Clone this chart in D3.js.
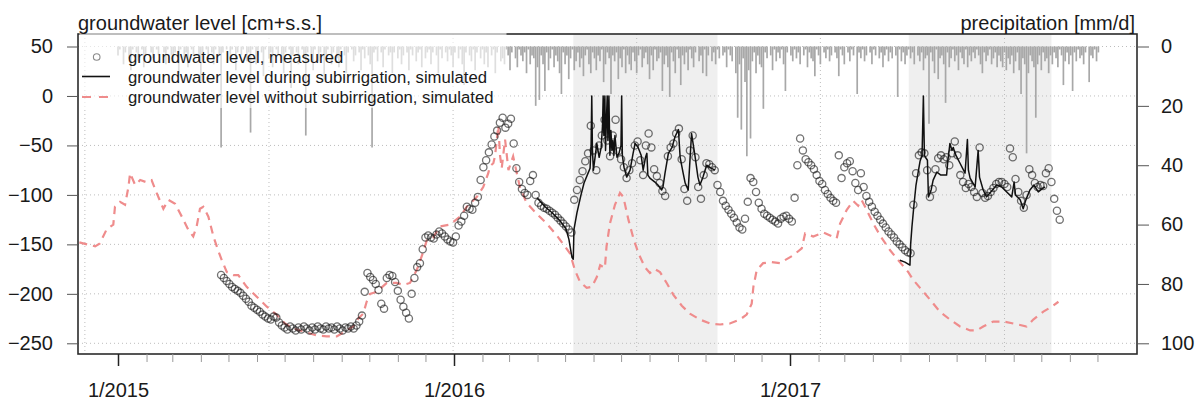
<!DOCTYPE html>
<html>
<head>
<meta charset="utf-8">
<style>
  body { margin: 0; background: #fff; }
  text { font-family: "Liberation Sans", Arial, sans-serif; fill: #1a1a1a; }
</style>
</head>
<body>
<script src="https://cdn.jsdelivr.net/npm/d3@7/dist/d3.min.js"></script>
<script>
// ---- data ----
// subirrigation periods (grey shading)
var subPeriods = [["2016-05-10", "2016-10-14"], ["2017-05-10", "2017-10-12"]];
// vertical dotted grid (every 200 days)
var gridDates = ["2014-11-26", "2015-06-14", "2015-12-31", "2016-07-18", "2017-02-03", "2017-08-22"];
var yTicks = [50, 0, -50, -100, -150, -200, -250];
var pTicks = [0, 20, 40, 60, 80, 100];
var yearTicks = [2015, 2016, 2017];

// precipitation [mm/d], one value per 2 days from 1/1/2015
var precipStart = "2015-01-01";
var precipStep = 2;
var precip = [
  3,1,0,6,2,0,4,8,1,0, 2,5,0,1,7,3,0,0,2,4, 0,1,3,0,0,2,6,1,0,3,
  5,2,0,9,1,0,4,2,7,0, 1,3,0,0,5,12,2,0,1,4, 0,2,6,1,0,3,34,2,0,1,
  0,4,1,0,8,2,0,3,1,0, 5,2,29,1,0,6,3,0,2,10, 1,0,4,2,7,0,1,3,0,5,
  9,2,0,1,14,3,0,2,6,0, 1,4,30,2,0,3,8,1,0,5, 2,0,11,3,1,0,6,2,0,4,
  7,1,0,3,9,2,0,1,5,3, 0,2,8,1,4,0,3,6,34,2, 1,5,0,2,7,1,0,3,2,9,
  2,0,4,1,6,3,0,2,8,1, 3,0,5,2,1,7,0,4,2,1, 6,2,0,3,9,1,4,0,2,5,
  1,3,7,2,0,4,1,6,13,2, 0,3,5,1,8,2,0,4,1,6, 2,7,0,3,1,9,2,0,5,4,
  6,1,3,8,2,0,4,7,1,3, 5,2,9,1,6,3,4,20,7,18, 3,6,15,2,8,4,1,7,3,5,
  9,16,2,6,3,11,4,1,8,5, 2,7,4,10,3,1,6,9,2,4, 8,3,5,1,12,6,2,4,16,3,
  5,2,11,4,7,1,9,3,6,8, 2,5,9,3,1,7,4,2,6,11, 3,8,1,5,4,2,15,6,3,7,
  17,2,5,9,1,4,13,3,6,2, 8,1,4,7,2,0,5,3,9,1, 10,3,0,5,2,6,1,4,0,3,
  2,7,1,3,5,0,9,24,6,28, 4,12,37,8,31,5,2,9,3,6, 7,21,2,4,0,3,8,1,5,2,
  4,1,6,15,2,0,3,5,1,4, 2,6,0,3,1,7,2,4,5,10, 1,3,6,0,2,4,1,5,3,0,
  2,4,10,1,3,6,0,2,5,1, 3,0,16,2,4,1,5,3,0,2, 6,1,3,0,4,2,7,3,1,5,
  2,4,0,3,17,1,5,2,6,3, 1,4,2,6,0,3,5,2,8,4, 3,26,2,5,9,1,11,4,3,6,
  19,2,7,4,1,5,3,8,2,4, 6,1,7,3,5,2,4,1,3,6, 9,2,5,3,1,6,4,2,7,3,
  5,7,2,8,4,6,3,9,5,2, 8,16,4,6,36,9,3,5,7,24, 6,3,8,2,5,4,9,3,6,2,
  4,7,1,3,13,5,2,6,3,15, 2,5,1,4,3,6,2,0,12,3, 4,1,5,2
];

// measured groundwater level [cm], one value per 3 days from 23/4/2015
var measStart = "2015-04-23";
var measStep = 3;
var measured = [
  -181,-184,-187,-190,-193,-195,-197,-199,-202,-205, -208,-212,-214,-216,-218,-221,-223,-225,-226,-223,
  -224,-229,-232,-234,-236,-233,-235,-237,-234,-236, -233,-235,-237,-234,-236,-233,-235,-236,-233,-235,
  -234,-236,-233,-235,-237,-234,-235,-233,-235,-232, -228,-222,-198,-179,-183,-186,-190,-196,-210,-215,
  -184,-181,-182,-188,-197,-206,-213,-219,-225,-200, -184,-173,-169,-155,-143,-141,-143,-144,-140,-137,
  -139,-142,-145,-147,-148,-142,-131,-127,-121,-112, -114,-115,-108,-102,-85,-72,-65,-57,-49,-41,
  -35,-27,-22,-32,-28,-23,-48,-73,-87,-94, -98,-100,-86,-80,-100,-108,-111,-113,-114,-116,
  -118,-120,-123,-126,-129,-132,-135,-138,-105,-95, -85,-76,-66,-58,-30,-55,-75,-50,-40,-24,
  -45,-61,-40,-24,-56,-64,-72,-83,-75,-68, -50,-46,-65,-80,-50,-38,-52,-74,-81,-88,
  -96,-101,-61,-52,-48,-38,-33,-64,-94,-106, -55,-40,-62,-92,-104,-80,-68,-69,-72,-75,
  -90,-97,-106,-111,-115,-119,-123,-128,-133,-135, -124,-107,-83,-87,-97,-108,-114,-119,-121,-123,
  -125,-127,-129,-124,-122,-121,-124,-127,-103,-70, -43,-55,-64,-67,-70,-74,-80,-86,-89,-95,
  -99,-103,-106,-108,-60,-83,-72,-68,-66,-76, -88,-95,-78,-92,-101,-107,-112,-117,-121,-125,
  -129,-133,-137,-140,-143,-147,-150,-153,-156,-158, -159,-110,-78,-60,-57,-58,-75,-102,-94,-74,
  -63,-60,-64,-62,-70,-58,-46,-60,-80,-87, -93,-89,-92,-97,-102,-52,-98,-103,-101,-97,
  -93,-89,-87,-87,-89,-92,-53,-62,-84,-97, -106,-113,-100,-74,-80,-88,-92,-90,-91,-78,
  -73,-87,-104,-116,-125
];

// simulated without subirrigation (decimal year, cm)
var noSubT = [2014.885,2014.896,2014.932,2014.946,2014.966,2014.986,2014.991,2015.006,2015.021,2015.031,
  2015.036,2015.051,2015.066,2015.083,2015.100,2015.115,2015.135,2015.150,2015.170,2015.190,
  2015.209,2015.224,2015.234,2015.244,2015.254,2015.269,2015.284,2015.299,2015.309,2015.324,
  2015.343,2015.358,2015.383,2015.413,2015.443,2015.472,2015.497,2015.522,2015.551,2015.591,
  2015.621,2015.651,2015.681,2015.700,2015.715,2015.730,2015.740,2015.750,2015.770,2015.800,
  2015.829,2015.849,2015.869,2015.889,2015.904,2015.919,2015.938,2015.958,2015.988,2016.018,
  2016.038,2016.068,2016.087,2016.102,2016.107,2016.117,2016.122,2016.132,2016.137,2016.142,
  2016.152,2016.162,2016.176,2016.196,2016.216,2016.246,2016.276,2016.306,2016.330,2016.345,
  2016.360,2016.375,2016.395,2016.410,2016.425,2016.435,2016.449,2016.454,2016.464,2016.479,
  2016.494,2016.504,2016.519,2016.534,2016.549,2016.568,2016.583,2016.598,2016.613,2016.633,
  2016.653,2016.678,2016.702,2016.732,2016.762,2016.792,2016.821,2016.851,2016.871,2016.886,
  2016.891,2016.901,2016.920,2016.945,2016.970,2017.010,2017.035,2017.045,2017.069,2017.099,
  2017.139,2017.149,2017.169,2017.188,2017.203,2017.213,2017.228,2017.248,2017.268,2017.298,
  2017.327,2017.352,2017.367,2017.387,2017.417,2017.446,2017.476,2017.506,2017.536,2017.556,
  2017.575,2017.605,2017.635,2017.665,2017.704,2017.724,2017.754,2017.779,2017.799];
var noSubGW = [-148,-149,-152,-149,-135,-130,-112,-107,-110,-92,
  -78,-90,-85,-87,-85,-98,-114,-105,-109,-122,
  -135,-142,-132,-114,-112,-122,-142,-157,-166,-178,
  -181,-181,-193,-203,-213,-221,-230,-235,-238,-242,
  -243,-243,-237,-233,-225,-220,-208,-200,-198,-189,
  -189,-191,-189,-176,-162,-146,-143,-132,-130,-122,
  -112,-102,-92,-78,-71,-68,-61,-30,-60,-73,
  -44,-75,-61,-92,-108,-119,-129,-141,-152,-159,
  -176,-188,-194,-193,-183,-171,-174,-152,-129,-110,
  -98,-102,-125,-144,-159,-173,-179,-175,-178,-189,
  -201,-212,-220,-226,-230,-231,-230,-226,-221,-210,
  -193,-176,-169,-168,-169,-161,-154,-139,-142,-138,
  -144,-129,-115,-106,-111,-105,-115,-129,-141,-156,
  -168,-178,-186,-194,-206,-218,-226,-233,-237,-237,
  -233,-228,-228,-230,-233,-226,-218,-213,-208];

// simulated during subirrigation (decimal year, cm)
var sub2016T = [2016.247,2016.271,2016.292,2016.315,2016.333,2016.342,2016.351,2016.355,2016.357,2016.366,
  2016.378,2016.387,2016.399,2016.405,2016.408,2016.410,2016.412,2016.415,2016.425,2016.432,
  2016.438,2016.442,2016.444,2016.446,2016.449,2016.451,2016.454,2016.456,2016.458,2016.461,
  2016.464,2016.467,2016.470,2016.473,2016.476,2016.479,2016.485,2016.491,2016.497,2016.499,
  2016.501,2016.506,2016.514,2016.524,2016.533,2016.539,2016.548,2016.557,2016.563,2016.570,
  2016.574,2016.577,2016.583,2016.598,2016.607,2016.618,2016.622,2016.628,2016.638,2016.649,
  2016.658,2016.668,2016.673,2016.682,2016.688,2016.697,2016.707,2016.717,2016.726,2016.732,
  2016.741,2016.752,2016.765,2016.777];
var sub2016GW = [-103,-112,-118,-126,-134,-145,-163,-165,-135,-118,
  -100,-88,-78,-73,-50,0,-55,-75,-48,-62,
  -52,-30,0,-40,0,-55,-20,0,-45,0,
  -60,-35,-55,-45,-60,-40,-62,-58,-50,0,
  -60,-72,-82,-75,-58,-48,-52,-60,-75,-62,
  -58,-80,-83,-87,-90,-95,-92,-78,-58,-52,
  -41,-34,-62,-78,-88,-95,-38,-60,-82,-90,
  -82,-70,-73,-75];
var sub2017T = [2017.327,2017.342,2017.357,2017.359,2017.363,2017.369,2017.375,2017.381,2017.387,2017.393,
  2017.397,2017.400,2017.405,2017.409,2017.412,2017.420,2017.426,2017.437,2017.449,2017.466,
  2017.470,2017.476,2017.482,2017.486,2017.491,2017.497,2017.506,2017.521,2017.528,2017.531,
  2017.536,2017.551,2017.560,2017.564,2017.575,2017.585,2017.595,2017.615,2017.630,2017.645,
  2017.660,2017.667,2017.671,2017.685,2017.694,2017.702,2017.714,2017.726,2017.739,2017.750,
  2017.759];
var sub2017GW = [-166,-168,-171,-150,-132,-110,-90,-78,-66,-60,
  0,-60,-63,-65,-102,-95,-85,-77,-80,-80,
  -65,-48,-55,-52,-58,-62,-68,-78,-44,-75,
  -83,-92,-55,-82,-95,-102,-98,-90,-92,-97,
  -102,-87,-100,-105,-114,-105,-95,-90,-97,-94,
  -92];

var legendLabels = ["groundwater level, measured",
  "groundwater level during subirrigation, simulated",
  "groundwater level without subirrigation, simulated"];

// ---- layout ----
var W = 1200, H = 403;
var box = {left: 78, right: 1137, top: 34, bottom: 354};
var redCol = "#ef8c8c";

function decYear(d) {
  var y = d.getUTCFullYear();
  var a = Date.UTC(y, 0, 1), b = Date.UTC(y + 1, 0, 1);
  return y + (d.getTime() - a) / (b - a);
}
function dateAt(start, days) {
  return new Date(Date.parse(start) + days * 86400000);
}

var x = d3.scaleLinear().domain([2015, 2017]).range([118, 790]);
var y = d3.scaleLinear().domain([-250, 50]).range([343.3, 46.5]);
var yP = d3.scaleLinear().domain([0, 100]).range([46.5, 343.3]);

var svg = d3.select("body").append("svg")
  .attr("width", W).attr("height", H);

svg.append("defs").append("clipPath").attr("id", "plotclip")
  .append("rect")
  .attr("x", box.left).attr("y", box.top)
  .attr("width", box.right - box.left).attr("height", box.bottom - box.top);

var plot = svg.append("g").attr("clip-path", "url(#plotclip)");

// subirrigation shading
plot.selectAll("rect.shade").data(subPeriods).enter().append("rect")
  .attr("class", "shade")
  .attr("x", function(d) { return x(decYear(new Date(d[0]))); })
  .attr("width", function(d) { return x(decYear(new Date(d[1]))) - x(decYear(new Date(d[0]))); })
  .attr("y", box.top).attr("height", box.bottom - box.top)
  .attr("fill", "#efefef");

// dotted grid
var grid = plot.append("g").attr("stroke", "#bdbdbd").attr("stroke-width", 1)
  .attr("stroke-dasharray", "1,3");
grid.selectAll("line.h").data(yTicks).enter().append("line")
  .attr("x1", box.left).attr("x2", box.right)
  .attr("y1", function(d) { return y(d); }).attr("y2", function(d) { return y(d); });
grid.selectAll("line.v").data(gridDates).enter().append("line")
  .attr("y1", box.top).attr("y2", box.bottom)
  .attr("x1", function(d) { return x(decYear(new Date(d))); })
  .attr("x2", function(d) { return x(decYear(new Date(d))); });

// precipitation, hanging from the top
var precipData = precip.map(function(v, i) {
  return {t: decYear(dateAt(precipStart, i * precipStep)), v: v};
}).filter(function(d) { return d.v > 0; });
plot.append("g").selectAll("line").data(precipData).enter().append("line")
  .attr("x1", function(d) { return x(d.t); }).attr("x2", function(d) { return x(d.t); })
  .attr("y1", yP(0)).attr("y2", function(d) { return yP(d.v); })
  .attr("stroke", "#a8a8a8").attr("stroke-width", 1.7);

// plot box
svg.append("rect")
  .attr("x", box.left).attr("y", box.top)
  .attr("width", box.right - box.left).attr("height", box.bottom - box.top)
  .attr("fill", "none").attr("stroke", "#2b2b2b").attr("stroke-width", 1.6);

// legend background (semi transparent white)
svg.append("rect")
  .attr("x", box.left + 1.5).attr("y", 32).attr("width", 505 - box.left).attr("height", 76)
  .attr("fill", "#fff").attr("fill-opacity", 0.62);

var line = d3.line()
  .x(function(d) { return x(d[0]); })
  .y(function(d) { return y(d[1]); });

// without subirrigation
plot.append("path")
  .datum(noSubT.map(function(t, i) { return [t, noSubGW[i]]; }))
  .attr("d", line)
  .attr("fill", "none").attr("stroke", redCol).attr("stroke-width", 2.2)
  .attr("stroke-dasharray", "8,6");

// measured
var measData = measured.map(function(v, i) {
  return [decYear(dateAt(measStart, i * measStep)), v];
});
plot.append("g").selectAll("circle").data(measData).enter().append("circle")
  .attr("cx", function(d) { return x(d[0]); })
  .attr("cy", function(d) { return y(d[1]); })
  .attr("r", 3.6)
  .attr("fill", "none").attr("stroke", "rgba(20,20,20,0.6)").attr("stroke-width", 1.3);

// during subirrigation
[[sub2016T, sub2016GW], [sub2017T, sub2017GW]].forEach(function(s) {
  plot.append("path")
    .datum(s[0].map(function(t, i) { return [t, s[1][i]]; }))
    .attr("d", line)
    .attr("fill", "none").attr("stroke", "#111").attr("stroke-width", 1.5)
    .attr("stroke-linejoin", "round");
});

// ---- axes ----
function styleAxis(g, size) {
  g.select(".domain").remove();
  g.selectAll("text").attr("font-size", size)
    .attr("font-family", '"Liberation Sans", Arial, sans-serif').attr("fill", "#1a1a1a");
}

var yAxis = svg.append("g").attr("transform", "translate(" + box.left + ",0)")
  .call(d3.axisLeft(y).tickValues(yTicks).tickSize(11).tickPadding(14));
styleAxis(yAxis, 20);
yAxis.selectAll("line").attr("stroke", "#555");

var pAxis = svg.append("g").attr("transform", "translate(" + box.right + ",0)")
  .call(d3.axisRight(yP).tickValues(pTicks).tickSize(12).tickPadding(12));
styleAxis(pAxis, 20);
pAxis.selectAll("line").attr("stroke", "#555");

var monthTicks = [];
yearTicks.forEach(function(yr) {
  for (var m = 0; m < 12; m++) monthTicks.push(decYear(new Date(Date.UTC(yr, m, 1))));
});
var mAxis = svg.append("g").attr("transform", "translate(0," + box.bottom + ")")
  .call(d3.axisBottom(x).tickValues(monthTicks).tickSize(8).tickFormat(""));
mAxis.select(".domain").remove();
mAxis.selectAll("line").attr("stroke", "#9a9a9a");

var xAxis = svg.append("g").attr("transform", "translate(0," + box.bottom + ")")
  .call(d3.axisBottom(x).tickValues(yearTicks).tickSize(12).tickPadding(17)
    .tickFormat(function(d) { return "1/" + d; }));
styleAxis(xAxis, 20);
xAxis.selectAll("line").attr("stroke", "#222").attr("stroke-width", 1.5);

// axis titles
svg.append("text").attr("x", box.left).attr("y", 29.5).attr("font-size", 20)
  .text("groundwater level [cm+s.s.]");
svg.append("text").attr("x", box.right - 2).attr("y", 29.5).attr("font-size", 20)
  .attr("text-anchor", "end").text("precipitation [mm/d]");

// ---- legend ----
var leg = svg.append("g");
leg.append("circle").attr("cx", 96.7).attr("cy", 57).attr("r", 3.3)
  .attr("fill", "none").attr("stroke", "#8a8a8a").attr("stroke-width", 1.1);
leg.append("line").attr("x1", 82).attr("x2", 110).attr("y1", 76.5).attr("y2", 76.5)
  .attr("stroke", "#111").attr("stroke-width", 1.6);
leg.append("line").attr("x1", 82).attr("x2", 110).attr("y1", 97).attr("y2", 97)
  .attr("stroke", redCol).attr("stroke-width", 2.2).attr("stroke-dasharray", "9,8");
leg.selectAll("text").data(legendLabels).enter().append("text")
  .attr("x", 128).attr("y", function(d, i) { return 63 + i * 20; })
  .attr("font-size", 16.7).text(function(d) { return d; });
</script>
</body>
</html>
